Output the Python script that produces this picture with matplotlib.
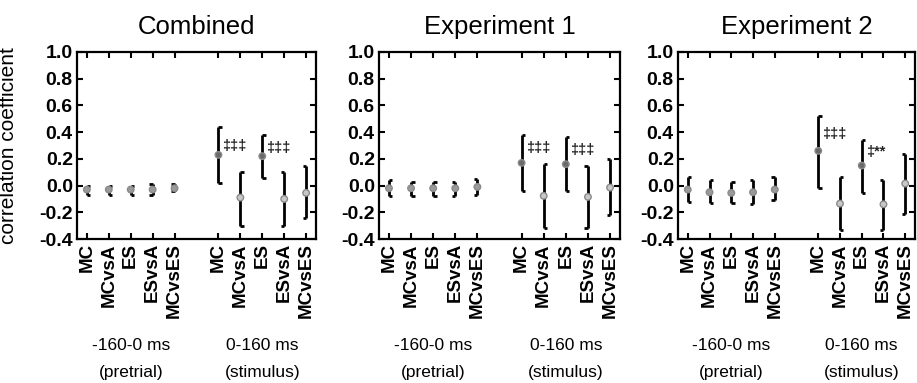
import matplotlib
matplotlib.use("Agg")
import matplotlib.pyplot as plt
import matplotlib.transforms as mtransforms

plt.rcParams['font.family'] = ['Liberation Sans', 'DejaVu Sans']

# conditions, repeated for the pretrial and stimulus windows
conditions = ['MC', 'MCvsA', 'ES', 'ESvsA', 'MCvsES']
x_pre = [1, 2, 3, 4, 5]
x_stim = [7, 8, 9, 10, 11]
bracket_side = [1, 1, 1, -1, -1]   # cap direction of each bracket
panel_titles = ['Combined', 'Experiment 1', 'Experiment 2']

# correlation coefficient estimates with lower / upper bounds
comb_pre = [-0.03, -0.03, -0.03, -0.03, -0.02]
comb_pre_lo = [-0.07, -0.07, -0.07, -0.07, -0.04]
comb_pre_hi = [0.00, 0.00, 0.00, 0.01, 0.01]
comb_stim = [0.23, -0.09, 0.22, -0.10, -0.055]
comb_stim_lo = [0.02, -0.30, 0.06, -0.30, -0.24]
comb_stim_hi = [0.44, 0.10, 0.38, 0.10, 0.15]

exp1_pre = [-0.02, -0.02, -0.02, -0.02, -0.01]
exp1_pre_lo = [-0.08, -0.08, -0.08, -0.08, -0.07]
exp1_pre_hi = [0.04, 0.03, 0.03, 0.03, 0.05]
exp1_stim = [0.17, -0.077, 0.16, -0.085, -0.015]
exp1_stim_lo = [-0.04, -0.32, -0.04, -0.32, -0.22]
exp1_stim_hi = [0.38, 0.165, 0.36, 0.15, 0.20]

exp2_pre = [-0.03, -0.05, -0.055, -0.05, -0.03]
exp2_pre_lo = [-0.12, -0.13, -0.13, -0.135, -0.11]
exp2_pre_hi = [0.065, 0.04, 0.03, 0.04, 0.065]
exp2_stim = [0.26, -0.135, 0.15, -0.14, 0.015]
exp2_stim_lo = [-0.02, -0.335, -0.055, -0.335, -0.21]
exp2_stim_hi = [0.52, 0.065, 0.34, 0.045, 0.24]

# significance marks next to MC and ES (stimulus window)
sig_text = [['‡‡‡', '‡‡‡'], ['‡‡‡', '‡‡‡'], ['‡‡‡', '‡**']]
sig_y = [[0.295, 0.28], [0.28, 0.27], [0.385, 0.25]]

panels = [
    (comb_pre, comb_pre_lo, comb_pre_hi, comb_stim, comb_stim_lo, comb_stim_hi),
    (exp1_pre, exp1_pre_lo, exp1_pre_hi, exp1_stim, exp1_stim_lo, exp1_stim_hi),
    (exp2_pre, exp2_pre_lo, exp2_pre_hi, exp2_stim, exp2_stim_lo, exp2_stim_hi),
]

W, H = 917, 383
ax_px = [(77, 239), (379, 241), (678, 237)]   # left, width in pixels
top_px, bot_px = 52, 239

fig = plt.figure(figsize=(W / 100, H / 100), dpi=100)

cap = 0.16


def draw_brackets(ax, xs, mid, lo, hi, dark):
    for x, m, l, h, side in zip(xs, mid, lo, hi, bracket_side):
        ax.plot([x, x], [l, h], color='black', lw=2, solid_capstyle='butt', zorder=2)
        ax.plot([x, x + side * cap], [h, h], color='black', lw=2, solid_capstyle='butt', zorder=2)
        ax.plot([x, x + side * cap], [l, l], color='black', lw=2, solid_capstyle='butt', zorder=2)
    ax.scatter(xs, mid, s=22, c=dark, edgecolors='#8a8a8a', linewidths=1, zorder=3)


for i, (pre, pre_lo, pre_hi, stim, stim_lo, stim_hi) in enumerate(panels):
    left, width = ax_px[i]
    ax = fig.add_axes([left / W, 1 - bot_px / H, width / W, (bot_px - top_px) / H])

    draw_brackets(ax, x_pre, pre, pre_lo, pre_hi, ['#9a9a9a'] * 5)
    stim_cols = ['#6a6a6a', '#c8c8c8', '#6a6a6a', '#c8c8c8', '#c8c8c8']
    draw_brackets(ax, x_stim, stim, stim_lo, stim_hi, stim_cols)

    for k, xi in enumerate([x_stim[0], x_stim[2]]):
        ax.text(xi + 0.18, sig_y[i][k], sig_text[i][k], fontsize=10.5, fontweight='bold',
                ha='left', va='center', color='#222222')

    ax.set_xlim(0.55, 11.45)
    ax.set_ylim(-0.4, 1.0)
    ax.set_yticks([-0.4, -0.2, 0.0, 0.2, 0.4, 0.6, 0.8, 1.0])
    ax.set_yticklabels(['-0.4', '-0.2', '0.0', '0.2', '0.4', '0.6', '0.8', '1.0'],
                       fontweight='bold')
    ax.set_xticks(x_pre + x_stim)
    ax.set_xticklabels(conditions + conditions, rotation=90, va='top', ha='center',
                       fontweight='bold')
    ax.tick_params(direction='in', top=True, right=True, length=4, width=1.5,
                   labelsize=14, pad=3)
    ax.tick_params(axis='x', labelsize=13.5, pad=3)
    for sp in ax.spines.values():
        sp.set_linewidth(1.6)

    ax.set_title(panel_titles[i], fontsize=18.5, pad=13)

    trans = mtransforms.blended_transform_factory(ax.transData, ax.transAxes)
    for xc, l1, l2 in [(3, '-160-0 ms', '(pretrial)'), (9, '0-160 ms', '(stimulus)')]:
        ax.text(xc, (bot_px - 346) / (bot_px - top_px), l1, transform=trans,
                ha='center', va='center', fontsize=12.5)
        ax.text(xc, (bot_px - 372) / (bot_px - top_px), l2, transform=trans,
                ha='center', va='center', fontsize=12.5)

    if i == 0:
        ax.set_ylabel('correlation coefficient', fontsize=15)
        ax.yaxis.set_label_coords((18 - 77) / 239, 0.5)

fig.savefig('out.png', dpi=100)
